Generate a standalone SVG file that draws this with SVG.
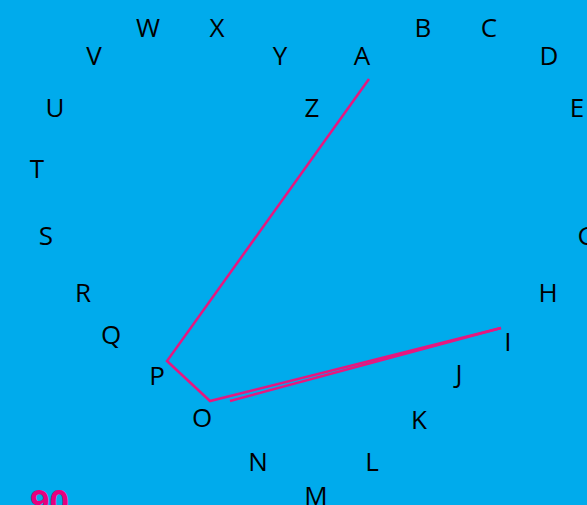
<svg xmlns="http://www.w3.org/2000/svg" width="587" height="505" viewBox="0 0 587 505">
<style>
.l{font-family:"Open Sans","Noto Sans",sans-serif;font-size:26px;fill:#000;text-anchor:middle}
.c{fill:none;stroke:#E6177F;stroke-width:2.5;stroke-linejoin:miter}
.n{font-family:"Open Sans","Noto Sans",sans-serif;font-size:34px;font-weight:bold;fill:#E6007E}
</style>
<rect x="0" y="0" width="587" height="505" fill="#00ABEC"/>
<g id="connectors">
<polyline class="c" points="369,79 167,361 210,401 501,328"/>
<line class="c" x1="230" y1="401" x2="501" y2="328"/>
</g>
<g id="letters">
<g id="nA"><text class="l" x="362" y="65">A</text></g>
<g id="nB"><text class="l" x="423" y="37">B</text></g>
<g id="nC"><text class="l" x="489" y="37">C</text></g>
<g id="nD"><text class="l" x="549" y="65">D</text></g>
<g id="nE"><text class="l" x="577" y="117">E</text></g>
<g id="nG"><text class="l" x="587" y="245">G</text></g>
<g id="nH"><text class="l" x="548" y="302">H</text></g>
<g id="nI"><text class="l" x="508" y="351">I</text></g>
<g id="nJ"><text class="l" x="459" y="383">J</text></g>
<g id="nK"><text class="l" x="419" y="429">K</text></g>
<g id="nL"><text class="l" x="372" y="471">L</text></g>
<g id="nM"><text class="l" x="316" y="505">M</text></g>
<g id="nN"><text class="l" x="258" y="471">N</text></g>
<g id="nO"><text class="l" x="202" y="427">O</text></g>
<g id="nP"><text class="l" x="157" y="385">P</text></g>
<g id="nQ"><text class="l" x="111" y="344">Q</text></g>
<g id="nR"><text class="l" x="83" y="302">R</text></g>
<g id="nS"><text class="l" x="46" y="245">S</text></g>
<g id="nT"><text class="l" x="37" y="178">T</text></g>
<g id="nU"><text class="l" x="55" y="117">U</text></g>
<g id="nV"><text class="l" x="94" y="65">V</text></g>
<g id="nW"><text class="l" x="148" y="37">W</text></g>
<g id="nX"><text class="l" x="217" y="37">X</text></g>
<g id="nY"><text class="l" x="280" y="65">Y</text></g>
<g id="nZ"><text class="l" x="312" y="117">Z</text></g>
</g>
<text class="n" x="30" y="514">90</text>
</svg>
